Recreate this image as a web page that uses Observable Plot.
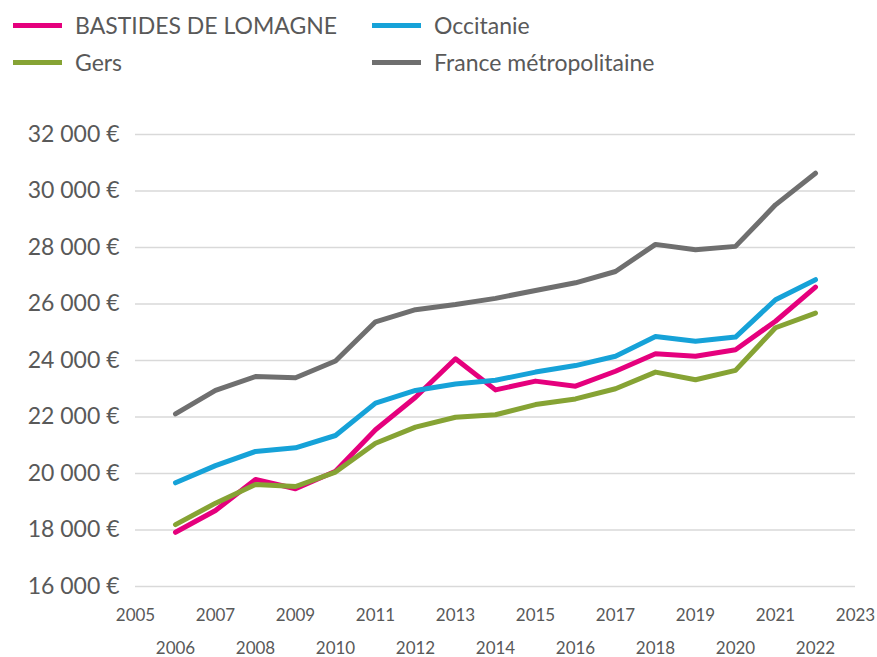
<!DOCTYPE html>
<html>
<head>
<meta charset="utf-8">
<script src="https://cdn.jsdelivr.net/npm/d3@7"></script>
<script src="https://cdn.jsdelivr.net/npm/@observablehq/plot@0.6"></script>
<style>
  html, body { margin: 0; padding: 0; background: #fff; }
  #wrap { width: 877px; height: 657px; position: relative; font-family: Lato, sans-serif; color: #595959; }
  #legend { position: relative; height: 90px; }
  .item { position: absolute; display: flex; align-items: center; font-size: 23px; line-height: 1; white-space: nowrap; }
  .sw { width: 49px; height: 5px; margin-right: 13px; }
  svg { display: block; overflow: visible; }
</style>
</head>
<body>
<div id="wrap">
  <div id="legend"></div>
  <div id="chart"></div>
</div>
<script>
const years = [2006, 2007, 2008, 2009, 2010, 2011, 2012, 2013, 2014, 2015, 2016, 2017, 2018, 2019, 2020, 2021, 2022];
const seriesNames = ["BASTIDES DE LOMAGNE", "Occitanie", "Gers", "France métropolitaine"];
const seriesColors = ["#E5007D", "#16A2D8", "#86A334", "#6F6F6F"];
const bastides = [17920, 18690, 19790, 19460, 20080, 21550, 22700, 24060, 22960, 23270, 23090, 23620, 24240, 24150, 24380, 25390, 26600];
const occitanie = [19670, 20280, 20780, 20910, 21345, 22490, 22940, 23170, 23300, 23590, 23820, 24150, 24850, 24680, 24830, 26150, 26860];
const gers = [18190, 18950, 19610, 19540, 20050, 21070, 21640, 21990, 22080, 22440, 22640, 23000, 23590, 23320, 23650, 25160, 25680];
const france = [22110, 22940, 23430, 23390, 23980, 25370, 25800, 25980, 26200, 26480, 26750, 27150, 28110, 27920, 28040, 29510, 30630];
const yTicks = [16000, 18000, 20000, 22000, 24000, 26000, 28000, 30000, 32000];
const yTickLabels = ["16 000 €", "18 000 €", "20 000 €", "22 000 €", "24 000 €", "26 000 €", "28 000 €", "30 000 €", "32 000 €"];
const xTicksOdd = [2005, 2007, 2009, 2011, 2013, 2015, 2017, 2019, 2021, 2023];
const xTicksEven = [2006, 2008, 2010, 2012, 2014, 2016, 2018, 2020, 2022];

const allValues = [bastides, occitanie, gers, france];
const rows = [];
seriesNames.forEach((s, k) => years.forEach((yr, i) => rows.push({series: s, year: yr, value: allValues[k][i]})));

// legend
const legendPos = [[13, 25], [372, 25], [13, 62], [372, 62]];
const legend = document.getElementById("legend");
seriesNames.forEach((s, k) => {
  const it = document.createElement("div");
  it.className = "item";
  it.style.left = legendPos[k][0] + "px";
  it.style.top = (legendPos[k][1] - 12) + "px";
  it.style.height = "24px";
  const sw = document.createElement("span");
  sw.className = "sw";
  sw.style.background = seriesColors[k];
  const tx = document.createElement("span");
  tx.textContent = s;
  it.appendChild(sw); it.appendChild(tx);
  legend.appendChild(it);
});

const chart = Plot.plot({
  width: 877,
  height: 567,
  marginTop: 44,
  marginBottom: 71,
  marginLeft: 135,
  marginRight: 22,
  style: {fontFamily: "Lato, sans-serif", color: "#595959", background: "white", overflow: "visible"},
  x: {domain: [2005, 2023], label: null},
  y: {domain: [16000, 32000], label: null},
  color: {domain: seriesNames, range: seriesColors},
  marks: [
    Plot.gridY(yTicks, {stroke: "#d9d9d9", strokeOpacity: 1, strokeWidth: 1.6}),
    Plot.axisY(yTicks, {tickSize: 0, tickPadding: 16, fontSize: 23, fill: "#595959",
      tickFormat: d => yTickLabels[yTicks.indexOf(d)]}),
    Plot.axisX(xTicksOdd, {tickSize: 0, tickPadding: 22, fontSize: 17, fill: "#595959", tickFormat: d => String(d)}),
    Plot.axisX(xTicksEven, {tickSize: 0, tickPadding: 55, fontSize: 17, fill: "#595959", tickFormat: d => String(d)}),
    Plot.lineY(rows, {x: "year", y: "value", z: "series", stroke: "series", strokeWidth: 5,
      strokeLinejoin: "round", strokeLinecap: "round"})
  ]
});
document.getElementById("chart").appendChild(chart);
</script>
</body>
</html>
